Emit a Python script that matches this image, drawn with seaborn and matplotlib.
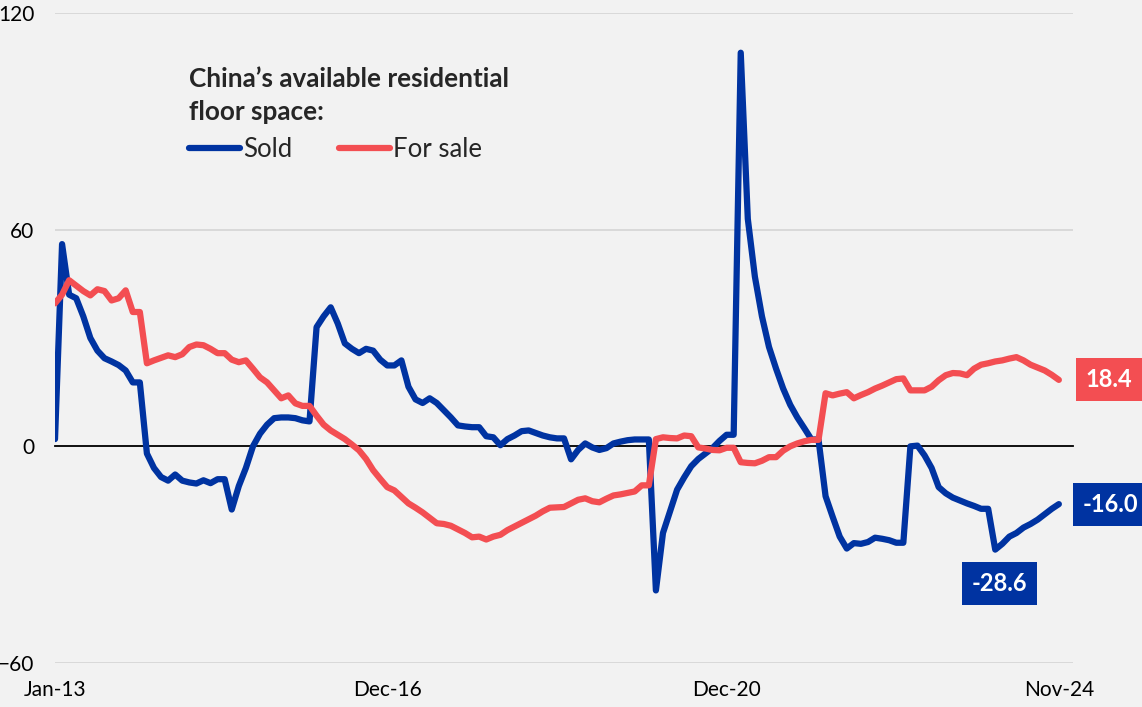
import numpy as np
import pandas as pd
import seaborn as sns
import matplotlib.pyplot as plt

# Monthly series, Jan-2013 .. Nov-2024 (% y/y, year-to-date)
months = pd.date_range("2013-01-01", periods=143, freq="MS")

sold = [
    2.0, 56.0, 42.0, 41.0, 36.0, 30.0, 26.5, 24.4, 23.5, 22.5, 21.0, 17.7,
    17.7, -2.0, -6.0, -8.5, -9.5, -7.8, -9.5, -10.0, -10.3, -9.4, -10.2, -9.1,
    -9.1, -17.5, -11.0, -6.0, 0.0, 3.5, 6.0, 7.8, 8.0, 8.0, 7.8, 7.2,
    6.9, 33.0, 36.0, 38.5, 34.0, 28.5, 27.0, 25.8, 27.0, 26.5, 24.0, 22.4,
    22.4, 23.8, 16.5, 13.0, 12.0, 13.3, 12.0, 10.0, 8.0, 5.8, 5.5, 5.3,
    5.3, 2.8, 2.5, 0.3, 2.0, 3.0, 4.2, 4.4, 3.7, 3.0, 2.5, 2.2,
    2.2, -3.6, -1.0, 0.8, -0.3, -1.0, -0.5, 0.8, 1.3, 1.7, 1.9, 1.9,
    1.9, -39.9, -24.0, -18.0, -12.0, -8.6, -5.5, -3.5, -2.0, -0.5, 1.5, 3.2,
    3.2, 109.0, 63.0, 47.0, 36.0, 27.5, 21.5, 16.0, 11.5, 8.0, 5.0, 1.9,
    1.9, -13.8, -19.5, -25.0, -28.3, -26.8, -27.0, -26.5, -25.3, -25.6, -26.0, -26.7,
    -26.7, 0.0, 0.2, -2.5, -6.0, -11.3, -13.0, -14.2, -15.0, -15.8, -16.5, -17.3,
    -17.3, -28.6, -27.0, -25.0, -24.0, -22.5, -21.5, -20.3, -18.8, -17.3, -16.0,
]

for_sale = [
    39.6, 42.0, 46.0, 44.5, 43.0, 41.8, 43.5, 43.0, 40.4, 41.0, 43.2, 37.2,
    37.2, 23.0, 23.8, 24.5, 25.2, 24.7, 25.5, 27.5, 28.2, 28.0, 27.0, 25.8,
    25.8, 24.0, 23.3, 23.8, 21.5, 19.1, 17.7, 15.5, 13.3, 14.1, 11.9, 11.2,
    11.2, 8.5, 6.0, 4.4, 3.2, 2.0, 0.5, -1.1, -3.5, -6.6, -9.0, -11.3,
    -12.2, -14.0, -15.8, -17.0, -18.3, -19.8, -21.3, -21.5, -22.0, -23.0, -24.0, -25.2,
    -25.0, -25.8, -25.0, -24.5, -23.2, -22.2, -21.2, -20.2, -19.2, -18.0, -17.0, -16.9,
    -16.8, -15.8, -14.8, -14.4, -15.2, -15.5, -14.5, -13.6, -13.3, -12.9, -12.5, -10.8,
    -10.8, 2.0, 2.5, 2.3, 2.2, 3.0, 2.8, -0.3, -0.6, -1.0, -1.1, -0.4,
    -0.4, -4.4, -4.6, -4.7, -4.0, -3.0, -3.0, -1.2, 0.0, 0.8, 1.4, 1.8,
    1.8, 14.7, 14.1, 14.6, 15.0, 13.3, 14.2, 15.0, 16.0, 16.8, 17.7, 18.6,
    18.8, 15.5, 15.5, 15.5, 16.5, 18.3, 19.7, 20.3, 20.2, 19.7, 21.5, 22.6,
    23.0, 23.5, 23.8, 24.3, 24.7, 23.8, 22.6, 21.8, 21.0, 19.8, 18.4,
]

series_names = ["Sold", "For sale"]
legend_title = "China\u2019s available residential\nfloor space:"
x_tick_idx = [0, 47, 95, 142]
x_tick_labels = [months[i].strftime("%b-%y") for i in x_tick_idx]
y_ticks = [-60, 0, 60, 120]

BG = "#F2F2F2"
BLUE = "#0033A1"
RED = "#F34E52"
GRID = "#D9D9D9"

sns.set_theme(style="white")
plt.rcParams["font.family"] = ["Lato", "DejaVu Sans"]

df = pd.DataFrame({
    "m": np.concatenate([np.arange(len(sold)), np.arange(len(for_sale))]),
    "value": sold + for_sale,
    "series": [series_names[0]] * len(sold) + [series_names[1]] * len(for_sale),
})

W, H = 1142, 707
fig = plt.figure(figsize=(W / 100, H / 100), dpi=100, facecolor=BG)
ax = fig.add_axes([55 / W, 1 - 663 / H, (1073 - 55) / W, 650 / H])
ax.set_facecolor(BG)

sns.lineplot(
    data=df, x="m", y="value", hue="series", hue_order=series_names,
    palette={series_names[0]: BLUE, series_names[1]: RED},
    linewidth=4.5, ax=ax, solid_capstyle="round", solid_joinstyle="round",
)

ax.set_xlim(0, 144)
ax.set_ylim(-60, 120)
ax.set_yticks(y_ticks)
ax.yaxis.grid(True, color=GRID, linewidth=1.4, zorder=0)
ax.set_axisbelow(True)
ax.set_xlabel("")
ax.set_ylabel("")

for side in ["left", "right", "top"]:
    ax.spines[side].set_visible(False)
ax.spines["bottom"].set_position(("data", 0))
ax.spines["bottom"].set_color("black")
ax.spines["bottom"].set_linewidth(1.3)
ax.spines["bottom"].set_zorder(1.5)

ax.set_xticks(x_tick_idx)
ax.tick_params(axis="x", direction="out", length=5, width=1.2, color="black",
               labelbottom=False)
ax.tick_params(axis="y", length=0, pad=15, labelsize=15, labelcolor="black")

# date labels along the bottom edge
sec = ax.secondary_xaxis(0.0)
sec.set_xticks(x_tick_idx, labels=x_tick_labels)
sec.tick_params(length=0, pad=12, labelsize=15, labelcolor="black")
sec.spines["bottom"].set_visible(False)

handles, labels = ax.get_legend_handles_labels()
leg = ax.legend(
    handles, labels, title=legend_title, ncol=2, frameon=False,
    loc="upper left", bbox_to_anchor=(176 / W, 1 - 54 / H),
    bbox_transform=fig.transFigure, borderpad=0, handlelength=2.0,
    handletextpad=0.12, columnspacing=1.8, fontsize=18.5,
    title_fontproperties={"weight": "bold", "size": 18.8}, alignment="left",
)
leg.get_title().set_linespacing(1.45)


def tag(idx, val, color, dx, dy):
    ax.annotate(
        f"{val:.1f}", xy=(idx, val), xytext=(dx, dy), textcoords="offset pixels",
        ha="center", va="center", color="white", fontweight="bold", fontsize=17,
        bbox=dict(boxstyle="square,pad=0.42", fc=color, ec="none"),
        annotation_clip=False,
    )


last = len(sold) - 1
tag(last, for_sale[last], RED, 50, 0)
tag(last, sold[last], BLUE, 52, 0)
i_min = int(np.argmin(sold[120:])) + 120
tag(i_min, sold[i_min], BLUE, 4, -34)

fig.savefig("out.png", dpi=100, facecolor=BG)
